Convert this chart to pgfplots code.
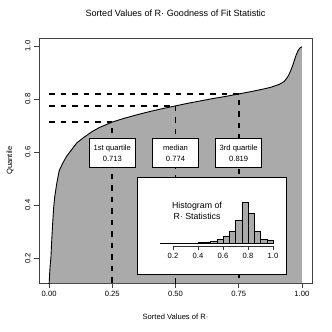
\documentclass[border=0pt]{standalone}
\usepackage{fontspec}
\setmainfont{Liberation Sans}
\usepackage{pgfplots}
\pgfplotsset{compat=1.18}
\definecolor{fillgray}{RGB}{170,170,170}
\begin{document}
\begin{tikzpicture}[font=\fontsize{7.6}{9}\selectfont]
\useasboundingbox (-39pt,-49pt) rectangle (293pt,283pt);
\begin{axis}[
  at={(0pt,0pt)}, anchor=south west, scale only axis,
  width=273pt, height=245pt,
  xmin=-0.04, xmax=1.04, ymin=0.106, ymax=1.03,
  axis line style={black!75, line width=0.6pt},
  tick style={black!75, line width=0.6pt},
  tick align=outside, major tick length=5pt,
  xtick={0,0.25,0.5,0.75,1}, xticklabels={0.00,0.25,0.50,0.75,1.00},
  ytick={0.2,0.4,0.6,0.8,1.0}, yticklabels={0.2,0.4,0.6,0.8,1.0},
  xtick pos=bottom, ytick pos=left,
  /pgf/number format/assume math mode=true,
  yticklabel style={rotate=90, anchor=south},
  xticklabel style={anchor=north},
  title={Sorted Values of R· Goodness of Fit Statistic},
  title style={at={(axis description cs:0.5,1.0776)}, anchor=center, font=\fontsize{9.1}{11}\selectfont},
  xlabel={Sorted Values of R·},
  xlabel style={at={(axis description cs:0.5,-0.1388)}, anchor=center},
  ylabel={Quantile},
  ylabel style={at={(axis description cs:-0.1062,0.5)}, anchor=center},
]
\addplot[fill=fillgray, draw=none] coordinates {
(0,0.10) (0.002,0.14) (0.004,0.17) (0.007,0.20) (0.010,0.26) (0.014,0.33)
(0.018,0.39) (0.022,0.43) (0.030,0.48) (0.040,0.53) (0.055,0.56) (0.070,0.585)
(0.090,0.61) (0.110,0.635) (0.140,0.657) (0.170,0.677) (0.200,0.693) (0.250,0.713)
(0.300,0.728) (0.350,0.741) (0.400,0.753) (0.450,0.764) (0.500,0.774) (0.550,0.784)
(0.600,0.793) (0.650,0.802) (0.700,0.810) (0.750,0.819) (0.800,0.828) (0.850,0.838)
(0.880,0.845) (0.910,0.855) (0.930,0.866) (0.945,0.885) (0.955,0.905) (0.965,0.930)
(0.975,0.960) (0.985,0.983) (0.993,0.993) (1.000,0.997)
} \closedcycle;
\addplot[black, line width=0.9pt] coordinates {
(0,0.10) (0.002,0.14) (0.004,0.17) (0.007,0.20) (0.010,0.26) (0.014,0.33)
(0.018,0.39) (0.022,0.43) (0.030,0.48) (0.040,0.53) (0.055,0.56) (0.070,0.585)
(0.090,0.61) (0.110,0.635) (0.140,0.657) (0.170,0.677) (0.200,0.693) (0.250,0.713)
(0.300,0.728) (0.350,0.741) (0.400,0.753) (0.450,0.764) (0.500,0.774) (0.550,0.784)
(0.600,0.793) (0.650,0.802) (0.700,0.810) (0.750,0.819) (0.800,0.828) (0.850,0.838)
(0.880,0.845) (0.910,0.855) (0.930,0.866) (0.945,0.885) (0.955,0.905) (0.965,0.930)
(0.975,0.960) (0.985,0.983) (0.993,0.993) (1.000,0.997)
};
% quartile guide lines
\addplot[black, line width=1.8pt, dash pattern=on 5.5pt off 6pt] coordinates {(0,0.713) (0.25,0.713) (0.25,0.0)};
\addplot[black, line width=1.8pt, dash pattern=on 5.5pt off 6pt] coordinates {(0,0.774) (0.5,0.774) (0.5,0.0)};
\addplot[black, line width=1.8pt, dash pattern=on 5.5pt off 6pt] coordinates {(0,0.819) (0.75,0.819) (0.75,0.0)};
% labels
\node[draw=black, fill=white, line width=0.5pt, minimum width=46pt, minimum height=29pt, align=center, inner sep=1pt] at (axis cs:0.25,0.596) {1st quartile\\[2pt]0.713};
\node[draw=black, fill=white, line width=0.5pt, minimum width=46pt, minimum height=29pt, align=center, inner sep=1pt] at (axis cs:0.5,0.596) {median\\[2pt]0.774};
\node[draw=black, fill=white, line width=0.5pt, minimum width=46pt, minimum height=29pt, align=center, inner sep=1pt] at (axis cs:0.75,0.596) {3rd quartile\\[2pt]0.819};
% inset box
\draw[black, line width=0.5pt, fill=white] (axis cs:0.348,0.506) rectangle (axis cs:0.937,0.140);
\end{axis}
\begin{axis}[
  at={(134pt,37pt)}, anchor=south west,
  x=125pt, y=1pt,
  xmin=0.2, xmax=1.0, ymin=-2.3, ymax=42,
  axis x line*=bottom, hide y axis, clip=false,
  axis line style={black!80, line width=0.6pt},
  tick style={black!80, line width=0.6pt},
  tick align=outside, major tick length=4pt,
  xtick={0.2,0.4,0.6,0.8,1.0}, xticklabels={0.2,0.4,0.6,0.8,1.0},
  /pgf/number format/assume math mode=true,
  xticklabel style={anchor=north},
]
\addplot[ybar interval, fill=fillgray, draw=black, line width=0.5pt] coordinates {
(0.10,0.3) (0.15,0.3) (0.20,0.4) (0.25,0.5) (0.30,0.6) (0.35,0.8) (0.40,1.1)
(0.45,1.8) (0.50,2.7) (0.55,4.3) (0.60,7.7) (0.65,12) (0.70,23.7) (0.75,41)
(0.80,30.3) (0.85,12) (0.90,4.3) (0.95,3.7) (1.00,0)
};
\node[align=center, font=\fontsize{8.8}{11}\selectfont] at (axis cs:0.392,32.7) {Histogram of\\R· Statistics};
\end{axis}
\end{tikzpicture}
\end{document}
